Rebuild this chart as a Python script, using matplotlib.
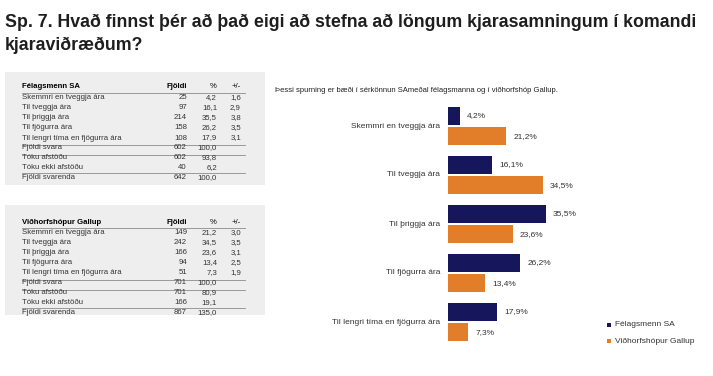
import matplotlib.pyplot as plt
from matplotlib.patches import Rectangle

plt.rcParams['font.family'] = ['Liberation Sans', 'DejaVu Sans']

title_lines = ['Sp. 7. Hvað finnst þér að það eigi að stefna að löngum kjarasamningum í komandi',
               'kjaraviðræðum?']
subtitle = 'Þessi spurning er bæði í sérkönnun SAmeðal félagsmanna og í viðhorfshóp Gallup.'

categories = ['Skemmri en tveggja ára', 'Til tveggja ára', 'Til þriggja ára',
              'Til fjögurra ára', 'Til lengri tíma en fjögurra ára']
series_names = ['Félagsmenn SA', 'Viðhorfshópur Gallup']
sa_pct = [4.2, 16.1, 35.5, 26.2, 17.9]
gallup_pct = [21.2, 34.5, 23.6, 13.4, 7.3]

sa_count = [25, 97, 214, 158, 108]
sa_moe = ['1,6', '2,9', '3,8', '3,5', '3,1']
sa_summary = [('Fjöldi svara', 602, '100,0'), ('Tóku afstöðu', 602, '93,8'),
              ('Tóku ekki afstöðu', 40, '6,2'), ('Fjöldi svarenda', 642, '100,0')]

gallup_count = [149, 242, 166, 94, 51]
gallup_moe = ['3,0', '3,5', '3,1', '2,5', '1,9']
gallup_summary = [('Fjöldi svara', 701, '100,0'), ('Tóku afstöðu', 701, '80,9'),
                  ('Tóku ekki afstöðu', 166, '19,1'), ('Fjöldi svarenda', 867, '135,0')]

navy = '#16165c'
orange = '#e27d2a'

W, H = 713, 376
fig = plt.figure(figsize=(W / 100, H / 100), dpi=100)

# overlay in pixel coordinates for text and tables
ov = fig.add_axes([0, 0, 1, 1])
ov.set_xlim(0, W)
ov.set_ylim(H, 0)
ov.axis('off')

ov.text(5, 27, title_lines[0], fontsize=12.8, fontweight='bold', color='#1e1e1e',
        va='baseline')
ov.text(5, 50, title_lines[1], fontsize=12.8, fontweight='bold', color='#1e1e1e',
        va='baseline')


def fmt(v):
    return f'{v:.1f}'.replace('.', ',')


def draw_table(top, bottom, header_y, name, counts, pcts, moes, summary):
    ov.add_patch(Rectangle((5, top), 260, bottom - top, facecolor='#eeeeee',
                           edgecolor='none', zorder=0))
    fs = 5.6
    ov.text(22, header_y, name, fontsize=fs, fontweight='bold', va='center')
    ov.text(187, header_y, 'Fjöldi', fontsize=fs, fontweight='bold', va='center', ha='right')
    ov.text(217, header_y, '%', fontsize=fs, va='center', ha='right')
    ov.text(241, header_y, '+/-', fontsize=fs, va='center', ha='right')
    y = header_y
    for cat, c, p, m in zip(categories, counts, pcts, moes):
        y += 10.2
        ov.text(22, y, cat, fontsize=fs, va='center', color='#333333')
        ov.text(187, y, str(c), fontsize=fs, va='center', ha='right', color='#333333')
        ov.text(217, y, fmt(p), fontsize=fs, va='center', ha='right', color='#333333')
        ov.text(241, y, m, fontsize=fs, va='center', ha='right', color='#333333')
    rows_end = y
    for lab, c, p in summary:
        y += 9.8
        ov.text(22, y, lab, fontsize=fs, va='center', color='#333333')
        ov.text(187, y, str(c), fontsize=fs, va='center', ha='right', color='#333333')
        ov.text(217, y, p, fontsize=fs, va='center', ha='right', color='#333333')
    for ly in [header_y + 6, rows_end + 7, rows_end + 17, rows_end + 35]:
        ov.plot([22, 245], [ly, ly], color='#999999', lw=0.7)


draw_table(72, 185, 87, 'Félagsmenn SA', sa_count, sa_pct, sa_moe, sa_summary)
draw_table(205, 315, 222, 'Viðhorfshópur Gallup', gallup_count, gallup_pct,
           gallup_moe, gallup_summary)

ov.text(275, 90, subtitle, fontsize=5.5, va='center', color='#222222')

# bar chart
x0, x1 = 448, 448 + 2.75 * 50
y_top, y_bot = 101.5, 346.5
ax = fig.add_axes([x0 / W, 1 - y_bot / H, (x1 - x0) / W, (y_bot - y_top) / H])
ax.set_xlim(0, 50)
ax.set_ylim(len(categories) - 0.5, -0.5)
ax.axis('off')

ypos = list(range(len(categories)))
bh = 0.37
off = 0.21
ax.barh([y - off for y in ypos], sa_pct, height=bh, color=navy, label=series_names[0])
ax.barh([y + off for y in ypos], gallup_pct, height=bh, color=orange, label=series_names[1])

for y, v in zip(ypos, sa_pct):
    ax.text(v + 2.6, y - off, fmt(v) + '%', fontsize=6, va='center', color='#333333')
for y, v in zip(ypos, gallup_pct):
    ax.text(v + 2.6, y + off, fmt(v) + '%', fontsize=6, va='center', color='#333333')
for y, cat in zip(ypos, categories):
    ax.text(-2.9, y, cat, fontsize=6, va='center', ha='right', color='#333333')

# legend
for ly, col, lab in [(325, navy, series_names[0]), (341, orange, series_names[1])]:
    ov.add_patch(Rectangle((607, ly - 1.8), 3.6, 3.6, facecolor=col, edgecolor='none'))
    ov.text(615, ly, lab, fontsize=6, va='center', color='#333333')

fig.savefig('out.png', dpi=100)
